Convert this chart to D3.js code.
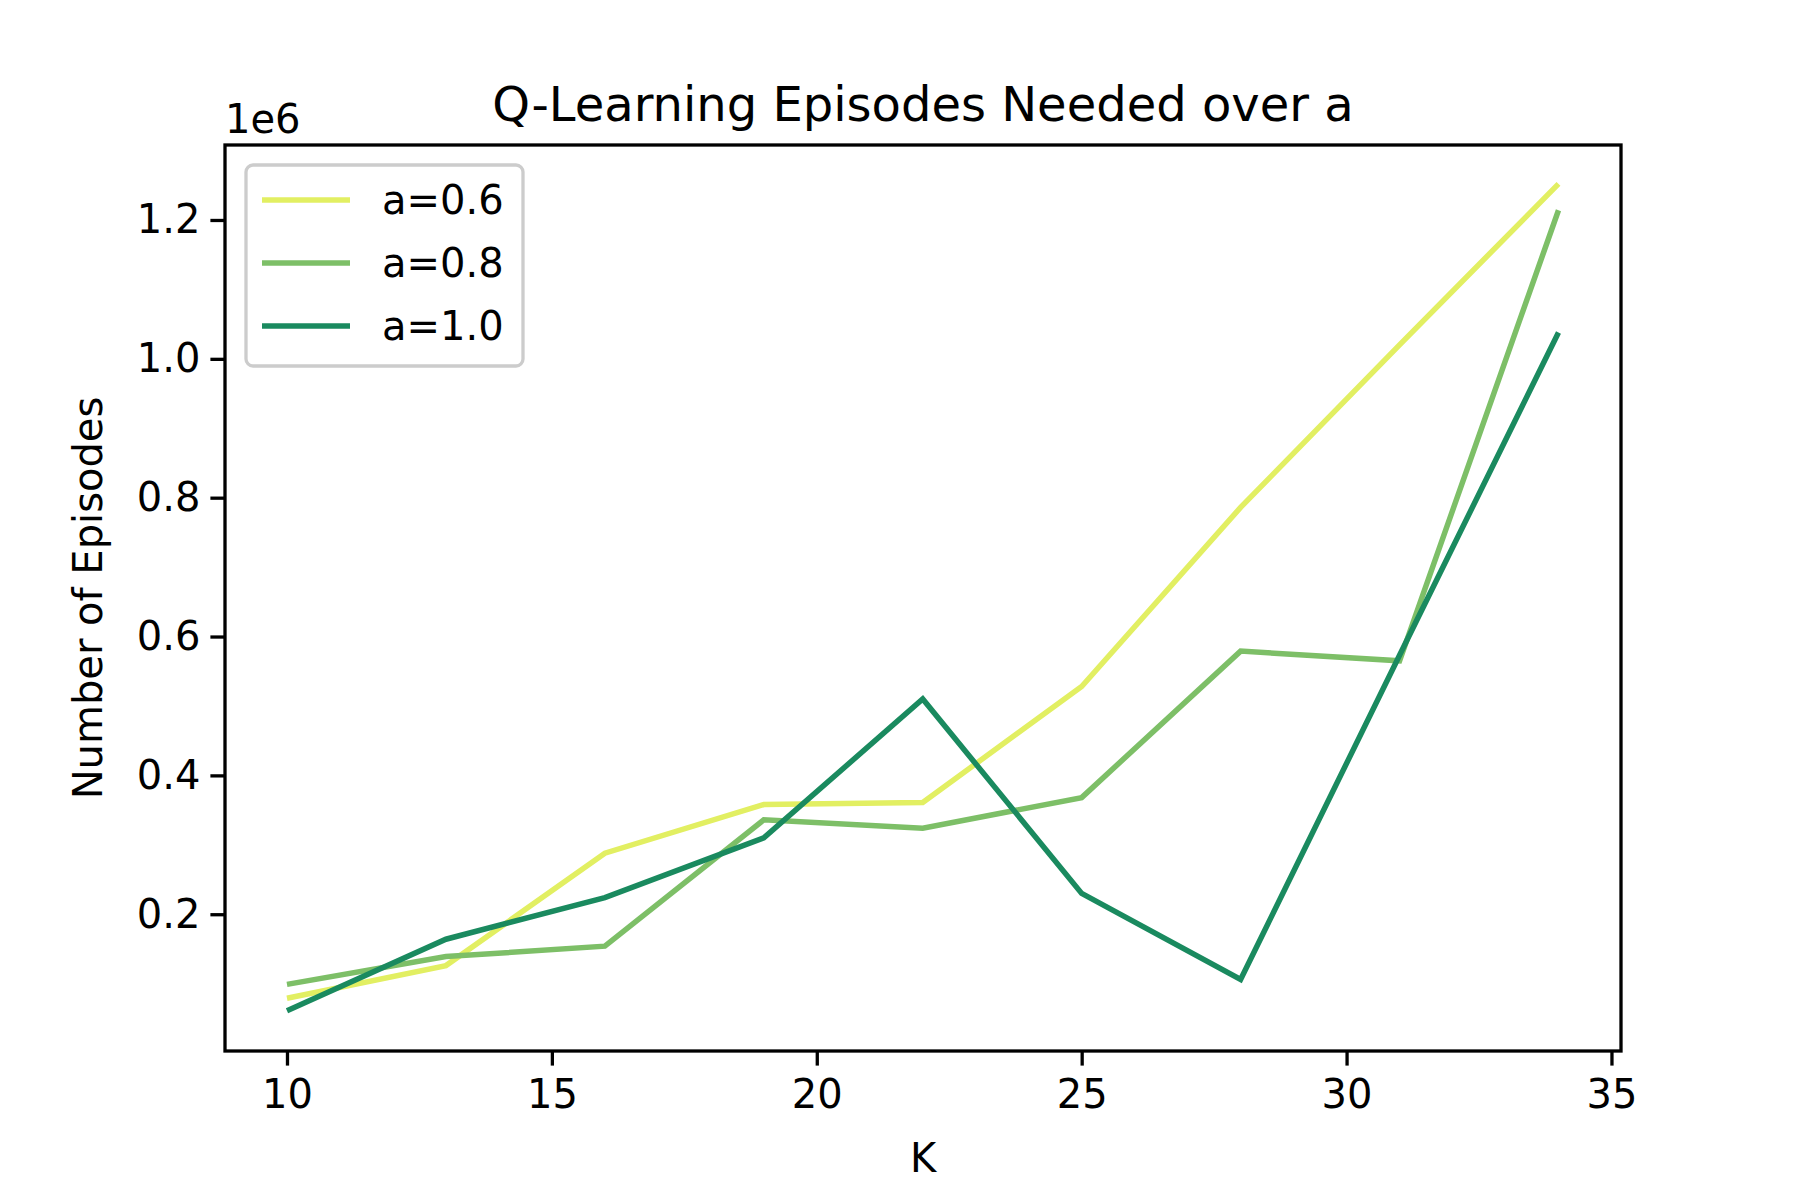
<!DOCTYPE html><html><head><meta charset="utf-8"><script src="https://cdn.jsdelivr.net/npm/d3@7"></script>
<style>body{margin:0;background:#fff}text{font-family:"DejaVu Sans";}</style></head><body><svg id="c" width="1800" height="1200"></svg>
<script>
const K=[10,13,16,19,22,25,28,31,34];
const a06=[0.079,0.126,0.288,0.358,0.361,0.528,0.786,1.02,1.252];
const a08=[0.099,0.139,0.154,0.336,0.324,0.368,0.579,0.565,1.214];
const a10=[0.061,0.164,0.224,0.310,0.510,0.230,0.106,0.573,1.038];
const names=["a=0.6","a=0.8","a=1.0"];
const colors=["#e2ef62","#7dbf67","#1a8a5f"];
const xTicks=[10,15,20,25,30,35];
const yTicks=[0.2,0.4,0.6,0.8,1.0,1.2];
const series=[a06,a08,a10];
const L=225,R=1621,T=145,B=1051;
const svg=d3.select("#c");
const x=d3.scaleLinear().domain([8.83,35.18]).range([L,R]);
const y=d3.scaleLinear().domain([0.003,1.308]).range([B,T]);
const fs=40;
const line=d3.line().x((d,i)=>x(K[i])).y(d=>y(d));
series.forEach((s,i)=>svg.append("path").attr("d",line(s)).attr("fill","none").attr("stroke",colors[i]).attr("stroke-width",5.5).attr("stroke-linejoin","miter"));
const xa=svg.append("g").attr("transform",`translate(0,${B})`).call(d3.axisBottom(x).tickValues(xTicks).tickSize(14.6).tickPadding(14).tickFormat(d3.format("d")));
const ya=svg.append("g").attr("transform",`translate(${L},0)`).call(d3.axisLeft(y).tickValues(yTicks).tickSize(14.6).tickPadding(10).tickFormat(d3.format(".1f")));
[xa,ya].forEach(g=>{g.select(".domain").remove();g.selectAll("line").attr("stroke","#000").attr("stroke-width",3.3);g.selectAll("text").attr("font-size",fs).attr("fill","#000").attr("font-family","DejaVu Sans");});
svg.append("rect").attr("x",L).attr("y",T).attr("width",R-L).attr("height",B-T).attr("fill","none").attr("stroke","#000").attr("stroke-width",3.3);
svg.append("text").attr("x",(L+R)/2).attr("y",T-24).attr("text-anchor","middle").attr("font-size",48).text("Q-Learning Episodes Needed over a");
svg.append("text").attr("x",(L+R)/2).attr("y",1172).attr("text-anchor","middle").attr("font-size",fs).text("K");
svg.append("text").attr("transform",`translate(102,${(T+B)/2}) rotate(-90)`).attr("text-anchor","middle").attr("font-size",fs).text("Number of Episodes");
svg.append("text").attr("x",L).attr("y",T-12).attr("font-size",fs).text("1e6");
const lg=svg.append("g");
lg.append("rect").attr("x",246).attr("y",165).attr("width",277).attr("height",201).attr("rx",7).attr("fill","#fff").attr("fill-opacity",0.8).attr("stroke","#ccc").attr("stroke-width",3.3);
names.forEach((n,i)=>{const yy=200+i*63;
lg.append("line").attr("x1",262).attr("x2",350).attr("y1",yy).attr("y2",yy).attr("stroke",colors[i]).attr("stroke-width",5.5);
lg.append("text").attr("x",382).attr("y",yy+14).attr("font-size",fs).text(n);});
</script></body></html>
